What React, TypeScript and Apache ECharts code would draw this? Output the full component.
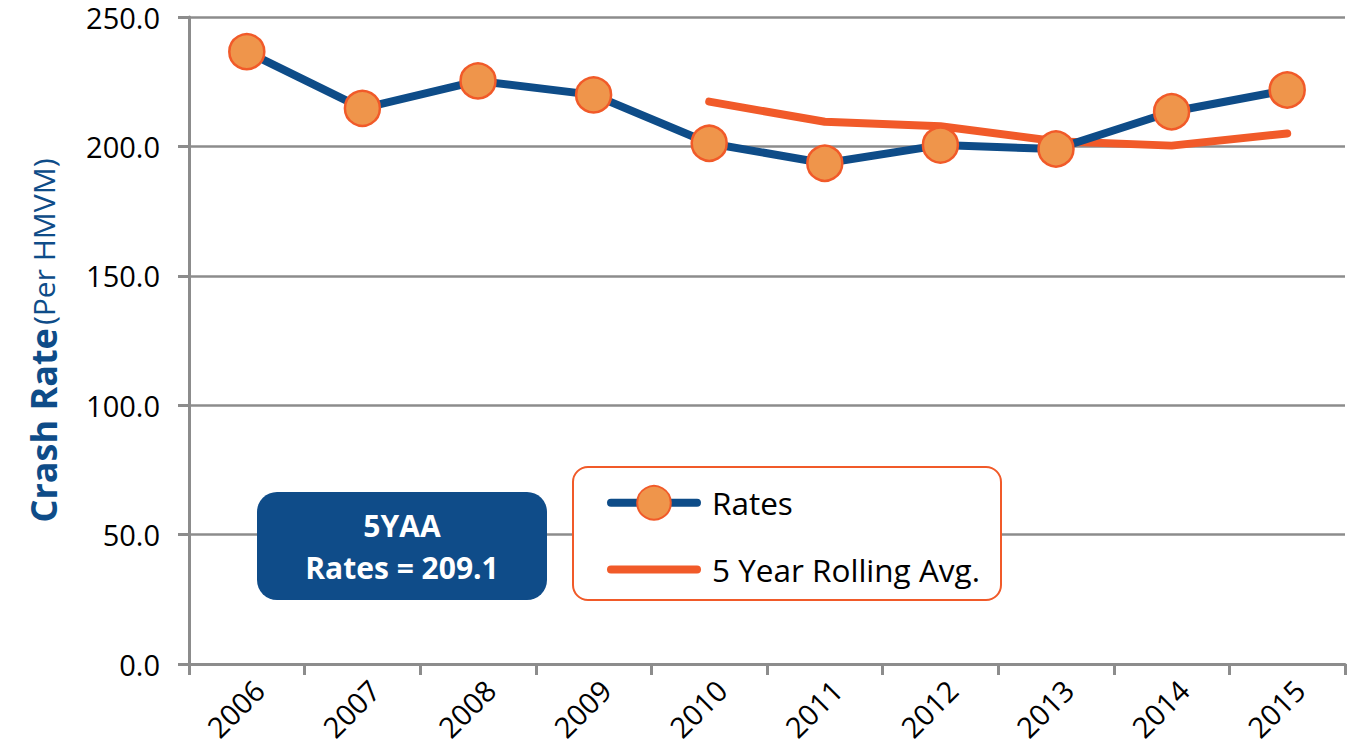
import React, { useEffect, useRef } from "react";
import * as echarts from "echarts";

const years = ["2006", "2007", "2008", "2009", "2010", "2011", "2012", "2013", "2014", "2015"];
const rates = [236.6, 214.7, 225.3, 219.9, 201.2, 193.5, 200.5, 199.0, 213.4, 221.8];
const rollingAvg = [null, null, null, null, 217.3, 209.5, 207.8, 202.0, 200.3, 205.0];
const yTicks = { min: 0, max: 250, interval: 50 };
const summaryTitle = "5YAA";
const summaryText = "Rates = 209.1";

const FONT = "'Open Sans', 'Noto Sans', sans-serif";
const BLUE = "#0E4C88";
const ORANGE = "#F15A29";
const FILL = "#EF954B";
const GRAY = "#8C8C8C";

export default function App() {
  const ref = useRef<HTMLDivElement>(null);
  useEffect(() => {
    if (!ref.current) return;
    const chart = echarts.init(ref.current, undefined, { renderer: "svg" });
    chart.setOption({
      animation: false,
      textStyle: { fontFamily: FONT },
      grid: { left: 189, right: 13, top: 17, bottom: 84, containLabel: false },
      xAxis: {
        type: "category",
        data: years,
        boundaryGap: true,
        axisLine: { lineStyle: { color: GRAY, width: 3 } },
        axisTick: { show: true, length: 11, lineStyle: { color: GRAY, width: 3 } },
        axisLabel: {
          rotate: 45,
          margin: 33,
          fontSize: 29,
          color: "#000",
          fontFamily: FONT,
          interval: 0,
          padding: [0, -17, 0, 0],
        },
      },
      yAxis: {
        type: "value",
        min: yTicks.min,
        max: yTicks.max,
        interval: yTicks.interval,
        axisLine: { show: true, lineStyle: { color: GRAY, width: 3 } },
        axisTick: { show: true, length: 11, lineStyle: { color: GRAY, width: 3 } },
        splitLine: { show: true, lineStyle: { color: GRAY, width: 2.5 } },
        axisLabel: {
          margin: 29,
          fontSize: 29,
          lineHeight: 30,
          color: "#000",
          fontFamily: FONT,
          formatter: (v: number) => v.toFixed(1),
        },
        name: "{a|Crash Rate} {b|(Per HMVM)}",
        nameLocation: "middle",
        nameGap: 128,
        nameRotate: 90,
        nameTextStyle: {
          rich: {
            a: { fontSize: 36, fontWeight: "bold", color: BLUE, fontFamily: FONT },
            b: { fontSize: 30, fontWeight: "normal", color: BLUE, fontFamily: FONT },
          },
        },
      },
      legend: {
        show: true,
        orient: "vertical",
        left: 607,
        top: 485,
        itemWidth: 86,
        itemHeight: 42,
        itemGap: 32,
        padding: 0,
        z: 20,
        lineStyle: { width: 8, cap: "round" },
        textStyle: { fontSize: 31.5, color: "#000", fontFamily: FONT, padding: [0, 0, 0, 10] },
        data: [
          { name: "Rates" },
          { name: "5 Year Rolling Avg.", itemStyle: { opacity: 0 } },
        ],
      },
      graphic: [
        {
          type: "rect",
          z: 10,
          shape: { x: 573, y: 467, width: 428, height: 133, r: 15 },
          style: { fill: "#fff", stroke: ORANGE, lineWidth: 2 },
        },
        {
          type: "rect",
          z: 10,
          shape: { x: 257, y: 492, width: 290, height: 108, r: 20 },
          style: { fill: "#0F4C89" },
        },
        {
          type: "text",
          z: 11,
          x: 402,
          y: 525,
          style: {
            text: summaryTitle,
            fill: "#fff",
            font: `bold 30px ${FONT}`,
            textAlign: "center",
            textVerticalAlign: "middle",
          },
        },
        {
          type: "text",
          z: 11,
          x: 402,
          y: 567,
          style: {
            text: summaryText,
            fill: "#fff",
            font: `bold 30px ${FONT}`,
            textAlign: "center",
            textVerticalAlign: "middle",
          },
        },
      ],
      series: [
        {
          name: "Rates",
          type: "line",
          data: rates,
          z: 3,
          symbol: "circle",
          symbolSize: 35,
          lineStyle: { color: BLUE, width: 8, cap: "round" },
          itemStyle: { color: FILL, borderColor: ORANGE, borderWidth: 2.5 },
        },
        {
          name: "5 Year Rolling Avg.",
          type: "line",
          data: rollingAvg,
          z: 2,
          symbol: "none",
          showSymbol: false,
          lineStyle: { color: ORANGE, width: 8, cap: "round" },
          itemStyle: { color: ORANGE },
        },
      ],
    });
    return () => chart.dispose();
  }, []);
  return <div ref={ref} style={{ width: 1358, height: 748, margin: -8 }} />;
}
